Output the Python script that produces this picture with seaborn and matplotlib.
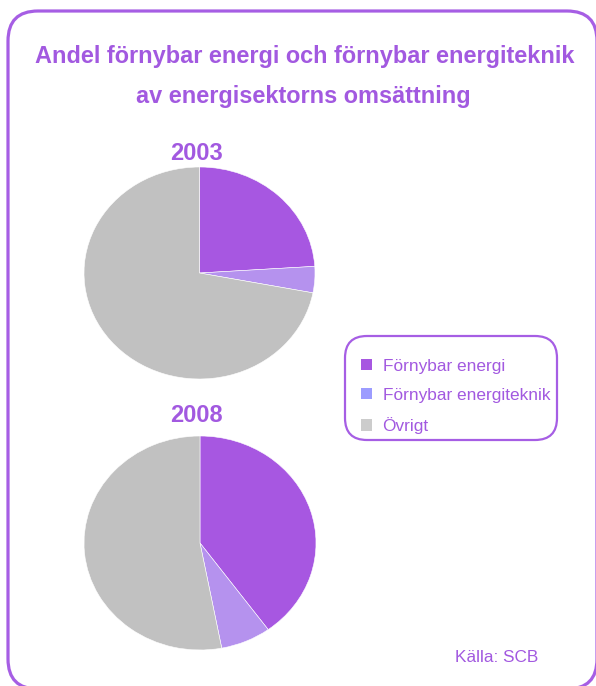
import matplotlib
matplotlib.use("Agg")
import matplotlib.pyplot as plt
import seaborn as sns
from matplotlib.patches import FancyBboxPatch, Patch
from matplotlib.transforms import IdentityTransform

# Andelar av energisektorns omsättning (%)
categories = ["Förnybar energi", "Förnybar energiteknik", "Övrigt"]
years = ["2003", "2008"]
share_2003 = [24, 4, 72]
share_2008 = [40, 7, 53]

pie_colors = ["#A757E1", "#B592EE", "#C1C1C1"]
legend_colors = ["#A757E1", "#9C9CFF", "#CCCCCC"]
text_color = "#A259E0"
border_color = "#A65EE4"

sns.set_theme(style="white")
plt.rcParams["font.family"] = ["Liberation Sans", "DejaVu Sans"]

W, H = 596, 686
fig = plt.figure(figsize=(W / 100, H / 100), dpi=100)
fig.patch.set_facecolor("white")

def px(x, y, w, h):
  # top-left pixel box -> figure fraction rect
  return [x / W, 1 - (y + h) / H, w / W, h / H]

# outer rounded frame
fig.add_artist(FancyBboxPatch((8, -3), 589, 678, boxstyle="round,pad=0,rounding_size=30",
                              transform=IdentityTransform(), facecolor="none",
                              edgecolor=border_color, linewidth=2.3))

fig.text(305 / W, 1 - 57 / H, "Andel förnybar energi och förnybar energiteknik",
         ha="center", va="center", fontsize=16.9, fontweight="bold", color=text_color)
fig.text(303 / W, 1 - 96 / H, "av energisektorns omsättning",
         ha="center", va="center", fontsize=16.9, fontweight="bold", color=text_color)

pies = [(share_2003, px(84, 167, 231, 212), 153), (share_2008, px(84, 436, 232, 214), 415)]
for year, (shares, rect, ty) in zip(years, pies):
  ax = fig.add_axes(rect)
  ax.pie(shares, colors=pie_colors, startangle=90, counterclock=False,
         wedgeprops=dict(linewidth=0.4, edgecolor="white"))
  ax.set_aspect("auto")
  ax.set_xlim(-1, 1)
  ax.set_ylim(-1, 1)
  ax.axis("off")
  fig.text(196 / W, 1 - ty / H, year, ha="center", va="center",
           fontsize=17, fontweight="bold", color=text_color)

# legend box
fig.add_artist(FancyBboxPatch((345, 246), 212, 104, boxstyle="round,pad=0,rounding_size=22",
                              transform=IdentityTransform(), facecolor="white",
                              edgecolor=border_color, linewidth=1.6))
handles = [Patch(facecolor=c, edgecolor="none") for c in legend_colors]
leg = fig.legend(handles, categories, loc="upper left", bbox_to_anchor=(345 / W, 1 - 343 / H),
                 frameon=False, fontsize=12.4, handlelength=0.64, handleheight=0.64,
                 handletextpad=0.64, labelspacing=0.83, labelcolor=text_color)

fig.text(455 / W, 1 - 658 / H, "Källa: SCB", ha="left", va="center",
         fontsize=12.4, color=text_color)

fig.savefig("out.png", dpi=100)
